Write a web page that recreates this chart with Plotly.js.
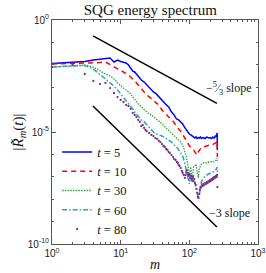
<!DOCTYPE html>
<html><head><meta charset="utf-8">
<script src="https://cdn.plot.ly/plotly-3.0.1.min.js"></script>
<style>html,body{margin:0;padding:0;background:#fff}#chart{width:266px;height:273px}</style>
</head><body><div id="chart"></div>
<script>
// wavenumbers m
const m = [1,2,3,4,5,6,7,8,9,10,11,12,13,14,15,16,18,20,22,25,28,30,33,36,40,45,50,55,60,65,70,75,80,85,90,95,100,105,110,115,120,125,130,135,140,145,150,160,170,180,190,200,210,220,230,240,248,252,254,256];
// log10 |R_m(t)|
const log_t5 = [-1.94,-1.90,-1.85,-1.79,-1.76,-1.72,-1.70,-1.875,-1.79,-1.85,-1.90,-1.92,-2.01,-2.14,-2.28,-2.32,
 -2.54,-2.68,-2.77,-2.95,-3.125,-3.21,-3.30,-3.44,-3.57,-3.75,-3.88,-4.11,-4.24,-4.42,-4.46,-4.55,-4.64,-4.78,-4.91,-5.0,-5.09,
 -5.13,-5.20,-5.22,-5.27,-5.22,-5.29,-5.25,-5.27,-5.22,-5.29,
 -5.25,-5.29,-5.22,-5.27,-5.25,-5.29,-5.22,-5.27,-5.18,
 -5.20,-5.13,-5.04,-5.80];
const log_t10 = [-1.96,-1.94,-1.92,-1.92,-1.90,-1.875,-1.99,-2.08,-2.14,-2.23,-2.32,-2.39,-2.46,-2.54,-2.63,-2.72,
 -2.90,-3.08,-3.21,-3.39,-3.48,-3.57,-3.71,-3.79,-4.02,-4.20,-4.33,-4.42,-4.60,-4.73,-4.87,-4.96,-5.09,-5.22,-5.36,-5.49,-5.62,
 -5.67,-5.76,-5.80,-5.89,-5.98,-6.03,-5.89,-5.80,-5.71,-5.69,
 -5.67,-5.65,-5.62,-5.60,-5.58,-5.60,-5.56,-5.54,-5.51,
 -5.49,-5.45,-5.40,-6.12];
const log_t30 = [-2.10,-2.05,-2.01,-2.10,-2.28,-2.41,-2.50,-2.63,-2.81,-2.95,-3.04,-3.125,-3.21,-3.30,-3.44,-3.53,
 -3.75,-3.88,-4.02,-4.15,-4.24,-4.33,-4.42,-4.51,-4.64,-4.78,-4.91,-5.04,-5.18,-5.27,-5.36,-5.45,-5.58,-5.80,-6.07,-6.47,-6.96,
 -6.56,-7.19,-6.56,-6.52,-6.43,-6.79,-7.05,-6.61,-6.47,-6.43,
 -6.38,-6.36,-6.38,-6.34,-6.36,-6.32,-6.34,-6.29,-6.27,
 -6.25,-6.21,-6.16,-6.29];
const log_t60 = [-2.10,-2.05,-2.03,-2.19,-2.41,-2.63,-2.81,-2.95,-3.125,-3.30,-3.44,-3.57,-3.71,-3.84,-3.97,-4.11,
 -4.29,-4.46,-4.55,-4.73,-4.91,-5.0,-5.09,-5.13,-5.18,-5.27,-5.36,-5.45,-5.58,-5.67,-5.80,-5.94,-6.07,-6.34,-6.70,-7.05,-7.32,
 -6.875,-7.28,-6.92,-7.14,-7.41,-7.68,-7.95,-7.81,-7.41,-7.23,
 -7.05,-6.96,-6.92,-6.875,-6.85,-6.83,-6.79,-6.74,-6.70,
 -6.65,-6.61,-6.56,-6.83];
// t = 80 drawn as dots
const m80 = [1,2,3,4,5,6,7,8,9,10,11,12,13,14,15,16,17,18,19,20,21,22,23,24,26,28,30,32,34,36,38,40,42,44,46,48,50,52,55,58,60,63,66,68,70,72,75,78,80,83,86,88,90,92,94,96,98,100,103,106,109,112,115,118,121,124,127,130,133,136,139,142,145,148,152,156,160,165,170,175,180,185,190,195,200,205,210,215,220,225,230,235,240,245,250,253,256];
const log_t80 = [-2.10,-2.01,-2.41,-2.72,-2.86,-2.81,-3.04,-3.26,-3.44,-3.57,-3.66,-3.79,-3.84,-3.97,-4.15,-4.24,-4.33,-4.46,-4.55,-4.73,-4.69,-4.82,-4.91,-4.96,-5.04,-5.13,-5.18,-5.27,-5.31,-5.40,-5.45,-5.54,-5.625,-5.67,-5.76,-5.80,-5.89,-5.94,-6.03,-6.12,-6.21,-6.25,-6.34,-6.38,-6.47,-6.52,-6.61,-6.74,-6.83,-6.92,-7.05,-6.92,-6.79,-6.70,-6.83,-6.92,-6.96,-6.875,-7.05,-6.96,-7.10,-7.01,-7.19,-7.10,-7.28,-7.37,-7.54,-7.72,-7.90,-7.95,-7.77,-7.59,-7.50,-7.46,-7.37,-7.41,-7.32,-7.37,-7.28,-7.32,-7.23,-7.28,-7.19,-7.23,-7.14,-7.19,-7.10,-7.14,-7.05,-7.10,-7.01,-7.05,-7.01,-6.96,-7.01,-6.92,-7.46];
// reference slope lines (endpoints)
const refM = [3.95, 252];
const ref53 = [0.195, 1.9e-4];
const ref3 = [1.45e-4, 5.75e-10];
const seriesNames = ['<i>t</i> = 5','<i>t</i> = 10','<i>t</i> = 30','<i>t</i> = 60','<i>t</i> = 80'];
const slopeLabels = ['\u2212<sup>5</sup>\u2044<sub>3</sub> slope','\u22123 slope'];
const xTickVals = [1, 10, 100, 1000];
const xTickText = ['10<sup>0</sup>','10<sup>1</sup>','10<sup>2</sup>','10<sup>3</sup>'];
const yTickVals = [1, 1e-5, 1e-10];
const yTickText = ['10<sup>0</sup>','10<sup>-5</sup>','10<sup>-10</sup>'];

const pw = a => a.map(v => Math.pow(10, v));
const serif = 'Liberation Serif, DejaVu Serif, serif';

const traces = [
 {x:m, y:pw(log_t5), name:seriesNames[0], mode:'lines', line:{color:'#0000ff', width:1.5}},
 {x:m, y:pw(log_t10), name:seriesNames[1], mode:'lines', line:{color:'#ff0000', width:1.5, dash:'5px,4px'}},
 {x:m, y:pw(log_t30), name:seriesNames[2], mode:'lines', line:{color:'#35a23a', width:1.3, dash:'1.5px,1.2px'}},
 {x:m, y:pw(log_t60), name:seriesNames[3], mode:'lines', line:{color:'#2aa0bb', width:1.5, dash:'5px,2px,1.5px,2px'}},
 {x:m80, y:pw(log_t80), name:seriesNames[4], mode:'markers', marker:{color:'#7e2f8e', size:2.3}},
 {x:refM, y:ref53, mode:'lines', line:{color:'#000', width:1.5}, showlegend:false, hoverinfo:'skip'},
 {x:refM, y:ref3, mode:'lines', line:{color:'#000', width:1.5}, showlegend:false, hoverinfo:'skip'}
];

const axisCommon = {
 type:'log', showgrid:false, zeroline:false, showline:true, linecolor:'#555', linewidth:1,
 mirror:'ticks', ticks:'inside', ticklen:4, tickcolor:'#555', tickmode:'array',
 tickfont:{family:'Liberation Sans, Arial, sans-serif', size:10, color:'#222'}
};

const layout = {
 width:266, height:273,
 margin:{l:52, r:8, t:20, b:29},
 paper_bgcolor:'#fff', plot_bgcolor:'#fff',
 title:{text:'SQG energy spectrum', font:{family:serif, size:15, color:'#111'}, x:0.565, xanchor:'center', y:0.965, yanchor:'middle', yref:'container'},
 xaxis:Object.assign({}, axisCommon, {range:[0,3], tickvals:xTickVals, ticktext:xTickText,
   minor:{ticks:'inside', ticklen:2, tickcolor:'#555', dtick:'D1'},
   title:{text:'<i>m</i>', font:{family:serif, size:14, color:'#111'}, standoff:1}}),
 yaxis:Object.assign({}, axisCommon, {range:[-10,0], tickvals:yTickVals, ticktext:yTickText,
   minor:{ticks:'inside', ticklen:2, tickcolor:'#555', dtick:1},
   title:{text:'|<i>R\u0303</i><sub><i>m</i></sub>(<i>t</i>)|', font:{family:serif, size:15, color:'#111'}, standoff:0}}),
 legend:{x:0.025, y:0.476, xanchor:'left', yanchor:'top', bgcolor:'rgba(0,0,0,0)', borderwidth:0,
   font:{family:serif, size:12.5, color:'#111'}, tracegroupgap:0},
 showlegend:true,
 annotations:[
  {x:Math.log10(162), y:-3.08, xref:'x', yref:'y', text:slopeLabels[0], showarrow:false, xanchor:'left', yanchor:'middle', font:{family:serif, size:12, color:'#111'}},
  {x:Math.log10(182), y:-8.62, xref:'x', yref:'y', text:slopeLabels[1], showarrow:false, xanchor:'left', yanchor:'middle', font:{family:serif, size:12, color:'#111'}}
 ]
};
Plotly.newPlot('chart', traces, layout, {staticPlot:true, displayModeBar:false});
</script></body></html>
